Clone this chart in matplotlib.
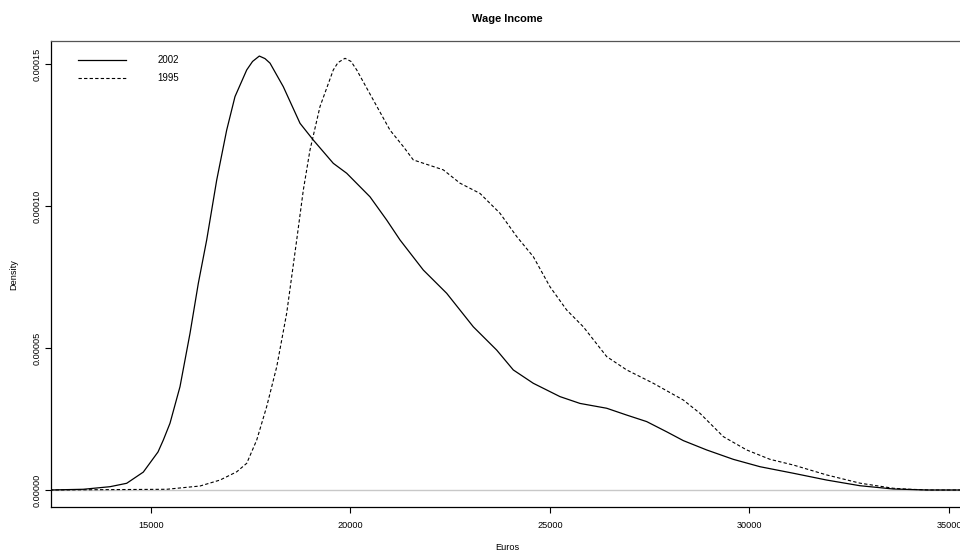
"""Wage income density, 2002 vs 1995 (R-style plot.density look)."""
import matplotlib
matplotlib.use("Agg")
import matplotlib.pyplot as plt
from matplotlib.ticker import FormatStrFormatter

plt.rcParams["font.family"] = ["Liberation Sans", "DejaVu Sans"]

# density values, in units of 1e-5
euros_2002 = [12469, 13304, 13973, 14391, 14807, 15176, 15309, 15476, 15727,
              15978, 16186, 16396, 16647, 16897, 17105, 17399, 17546, 17715,
              17857, 17983, 18316, 18735, 19068, 19569, 19905, 20489, 20908,
              21241, 21825, 22411, 23078, 23664, 24080, 24581, 25250, 25752,
              26421, 26922, 27423, 27925, 28341, 28928, 29594, 30264, 31098,
              31935, 32770, 33605, 34441, 35400]
dens_2002 = [0.0, 0.025, 0.116, 0.236, 0.63, 1.34, 1.76, 2.35, 3.64,
             5.52, 7.28, 8.81, 10.92, 12.68, 13.86, 14.80, 15.10, 15.29,
             15.20, 15.04, 14.21, 12.92, 12.33, 11.51, 11.16, 10.33, 9.51,
             8.81, 7.75, 6.93, 5.75, 4.93, 4.23, 3.76, 3.29, 3.05,
             2.88, 2.64, 2.41, 2.05, 1.74, 1.41, 1.08, 0.82, 0.59,
             0.35, 0.15, 0.035, 0.0, 0.0]

euros_1995 = [12469, 15394, 16229, 16730, 17148, 17399, 17650, 17900, 18151,
              18401, 18652, 18818, 18985, 19236, 19569, 19687, 19863, 20013,
              20156, 20572, 20990, 21324, 21574, 22326, 22745, 23245, 23747,
              24166, 24582, 25000, 25419, 25835, 26421, 26922, 27589, 28341,
              28760, 29344, 29930, 30514, 31098, 31935, 32770, 33605, 34023,
              34525, 35400]
dens_1995 = [0.0, 0.025, 0.14, 0.35, 0.64, 0.94, 1.76, 2.94, 4.34,
             6.23, 8.81, 10.57, 11.98, 13.51, 14.80, 15.06, 15.21, 15.10,
             14.80, 13.74, 12.68, 12.10, 11.63, 11.28, 10.81, 10.45, 9.75,
             8.93, 8.22, 7.16, 6.34, 5.75, 4.70, 4.23, 3.76, 3.17,
             2.70, 1.88, 1.41, 1.08, 0.88, 0.53, 0.24, 0.06, 0.025,
             0.0, 0.0]

x_ticks = [15000, 20000, 25000, 30000, 35000]
y_ticks = [0.0, 5e-5, 1e-4, 1.5e-4]

SCALE = 1e-5

fig = plt.figure(figsize=(9.6, 5.5), dpi=100, facecolor="white")
# right edge of the plot box sits just past the picture edge
ax = fig.add_axes([51 / 960, 42.7 / 550, 912 / 960, 466.3 / 550])

ax.axhline(0, color="#c8c8c8", lw=1.0, zorder=1)
ax.plot(euros_2002, [d * SCALE for d in dens_2002], color="black", lw=0.9,
        label="2002", zorder=3)
ax.plot(euros_1995, [d * SCALE for d in dens_1995], color="black", lw=0.8,
        linestyle=(0, (3, 2)), label="1995", zorder=3)

ax.set_xlim(12494, 35351)
ax.set_ylim(-6.1e-6, 1.582e-4)
ax.set_xticks(x_ticks)
ax.set_yticks(y_ticks)
ax.yaxis.set_major_formatter(FormatStrFormatter("%.5f"))
ax.tick_params(axis="both", direction="out", length=4, width=0.8,
               labelsize=6.6, color="black")
ax.tick_params(axis="x", pad=6)
ax.tick_params(axis="y", pad=3)
for lab in ax.get_yticklabels():
    lab.set_rotation(90)
    lab.set_va("center")

for side in ("left", "bottom", "top", "right"):
    ax.spines[side].set_color("black")
    ax.spines[side].set_linewidth(0.9)
ax.spines["top"].set_color("#555555")

ax.set_title("Wage Income", fontsize=7.9, fontweight="bold", pad=14)
ax.set_xlabel("Euros", fontsize=6.6, labelpad=9)
ax.set_ylabel("Density", fontsize=6.6, labelpad=10)

leg = ax.legend(loc="upper left", bbox_to_anchor=(0.025, 0.978), frameon=False,
                fontsize=6.9, handlelength=5.0, handletextpad=3.3,
                labelspacing=0.85, borderaxespad=0)

fig.savefig("out.png", dpi=100, facecolor="white")
